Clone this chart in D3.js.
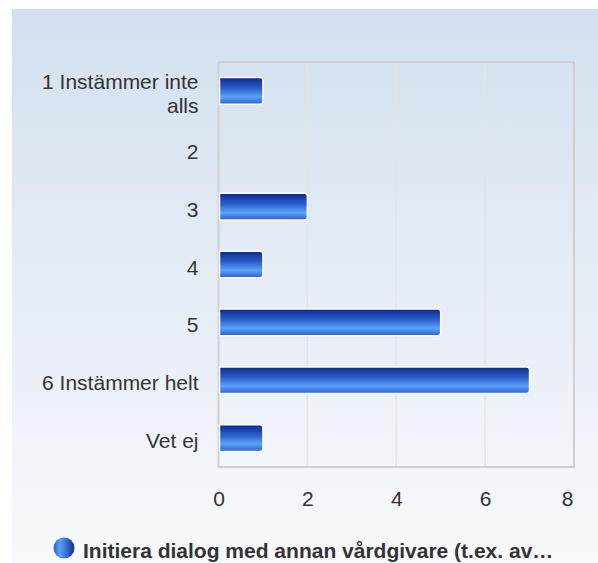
<!DOCTYPE html>
<html>
<head>
<meta charset="utf-8">
<script src="https://cdn.jsdelivr.net/npm/d3@7"></script>
<style>
  body { margin: 0; background: #fff; }
  svg { display: block; font-family: "Liberation Sans", Arial, sans-serif; }
</style>
</head>
<body>
<div id="chart"></div>
<script>
// svar per alternativ
var categories = ["1 Instämmer inte alls", "2", "3", "4", "5", "6 Instämmer helt", "Vet ej"];
var counts = [1, 0, 2, 1, 5, 7, 1];
var xTicks = [0, 2, 4, 6, 8];
var seriesName = "Initiera dialog med annan vårdgivare (t.ex. av…";

var W = 598, H = 563;
var margin = {top: 62, right: 24, bottom: 96, left: 218.5};
var width = 574 - margin.left,
    height = 467 - margin.top;

var svg = d3.select("#chart").append("svg")
  .attr("width", W).attr("height", H);

var defs = svg.append("defs");
var bg = defs.append("linearGradient").attr("id", "bg")
  .attr("x1", 0).attr("y1", 0).attr("x2", 0).attr("y2", 1);
bg.append("stop").attr("offset", "0%").attr("stop-color", "#d3e0f0");
bg.append("stop").attr("offset", "100%").attr("stop-color", "#f8f9fc");

var barGrad = defs.append("linearGradient").attr("id", "barGrad")
  .attr("x1", 0).attr("y1", 0).attr("x2", 0).attr("y2", 1);
barGrad.append("stop").attr("offset", "0%").attr("stop-color", "#0c2a8c");
barGrad.append("stop").attr("offset", "40%").attr("stop-color", "#2a5ecb");
barGrad.append("stop").attr("offset", "72%").attr("stop-color", "#5aa2fb");
barGrad.append("stop").attr("offset", "100%").attr("stop-color", "#2a5fcc");

var legGrad = defs.append("linearGradient").attr("id", "legGrad")
  .attr("x1", 0).attr("y1", 0).attr("x2", 1).attr("y2", 0);
legGrad.append("stop").attr("offset", "0%").attr("stop-color", "#2a5fcc");
legGrad.append("stop").attr("offset", "30%").attr("stop-color", "#5aa2fb");
legGrad.append("stop").attr("offset", "100%").attr("stop-color", "#0f2f94");

svg.append("rect")
  .attr("x", 12).attr("y", 9)
  .attr("width", W - 12).attr("height", H - 9)
  .attr("fill", "url(#bg)");

var g = svg.append("g")
  .attr("transform", "translate(" + margin.left + "," + margin.top + ")");

var x = d3.scaleLinear().domain([0, 8]).range([0, width]);
var y = d3.scaleBand().domain(categories).range([0, height]).paddingInner(0.54).paddingOuter(0.27);

// gridlines
g.selectAll(".grid")
  .data(xTicks.slice(1, -1))
  .enter().append("line")
    .attr("x1", function(d) { return x(d); })
    .attr("x2", function(d) { return x(d); })
    .attr("y1", 0).attr("y2", height)
    .attr("stroke", "#e2e4e8").attr("stroke-width", 1.5);

// plot border
g.append("rect")
  .attr("x", 0).attr("y", 0)
  .attr("width", width).attr("height", height)
  .attr("fill", "none")
  .attr("stroke", "#cfcfd2").attr("stroke-width", 2);

// bars, right corners rounded
function barPath(w, h, r) {
  if (w <= 0) return "";
  r = Math.min(r, w);
  return "M0,0H" + (w - r) + "Q" + w + ",0 " + w + "," + r +
    "V" + (h - r) + "Q" + w + "," + h + " " + (w - r) + "," + h + "H0Z";
}

g.selectAll(".bar")
  .data(categories)
  .enter().append("path")
    .attr("class", "bar")
    .attr("transform", function(d) { return "translate(1," + y(d) + ")"; })
    .attr("d", function(d, i) { return barPath(x(counts[i]) - 1, y.bandwidth(), 3); })
    .attr("fill", "url(#barGrad)")
    .attr("stroke", "#fff").attr("stroke-width", 1.5);

// y labels
var yAxis = g.append("g").attr("class", "y axis");
yAxis.selectAll("text")
  .data(categories)
  .enter().append("text")
    .attr("text-anchor", "end")
    .attr("fill", "#333")
    .style("font-size", "21px")
    .each(function(d) {
      var t = d3.select(this);
      var cy = y(d) + y.bandwidth() / 2;
      var lines = d === "1 Instämmer inte alls" ? ["1 Instämmer inte", "alls"] : [d];
      var start = cy - (lines.length - 1) * 12 + 10;
      lines.forEach(function(l, k) {
        t.append("tspan").attr("x", -20).attr("y", start + k * 24).text(l);
      });
    });

// x labels
var xAxis = d3.axisBottom(x).tickValues(xTicks).tickSize(0).tickPadding(24);
var xa = g.append("g")
  .attr("transform", "translate(0," + height + ")")
  .call(xAxis);
xa.select(".domain").remove();
xa.selectAll("text").attr("fill", "#333").style("font-size", "21px")
  .style("font-family", "'Liberation Sans', Arial, sans-serif");
// last label kept inside the plot edge
xa.selectAll(".tick").filter(function(d) { return d === xTicks[xTicks.length - 1]; })
  .select("text").attr("text-anchor", "end").attr("dx", "-1");

// legend
var leg = svg.append("g").attr("transform", "translate(64,548)");
leg.append("circle").attr("r", 10.5).attr("fill", "url(#legGrad)");
leg.append("text")
  .attr("x", 19).attr("y", 9.5)
  .attr("fill", "#333")
  .style("font-size", "21px").style("font-weight", "bold")
  .text(seriesName);
</script>
</body>
</html>
